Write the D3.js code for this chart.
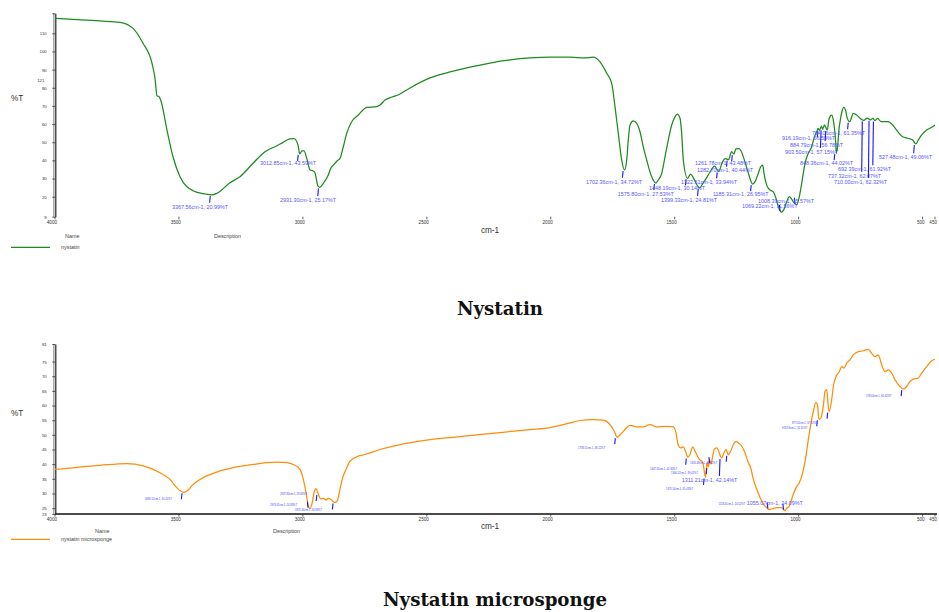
<!DOCTYPE html>
<html>
<head>
<meta charset="utf-8">
<script src="https://cdn.jsdelivr.net/npm/d3@7"></script>
<style>
  body { margin: 0; background: #fff; }
  svg { display: block; }
</style>
</head>
<body>
<svg id="chart" width="939" height="612"></svg>
<script>
// ---- data -------------------------------------------------------------
const wavenumberTicks = [4000, 3500, 3000, 2500, 2000, 1500, 1000, 500, 450];
const nystatinYTicks = [121, 110, 100, 90, 80, 70, 60, 50, 40, 30, 20, 9];
const microspongeYTicks = [81, 75, 70, 65, 60, 55, 50, 45, 40, 35, 30, 25, 23];

// [wavenumber cm-1, %T]
const nystatinSpectrum = [
  [4000,118.2],[3818.5,116.8],[3737.8,116.0],[3685.3,112.7],[3645.0,104.5],[3608.7,93.5],[3596.6,85.2],
  [3588.5,75.5],[3580.5,75.2],[3572.4,72.7],[3548.2,56.7],[3524.0,42.0],[3495.7,31.0],[3443.3,23.3],
  [3394.9,21.5],[3367.56,20.99],[3346.5,21.9],[3294.0,27.7],[3253.7,31.0],[3201.2,38.4],[3152.8,44.8],
  [3104.4,48.1],[3080.2,49.9],[3052.0,51.9],[3035.8,52.0],[3019.7,48.5],[3012.85,43.59],[3004.0,45.2],
  [2995.5,45.2],[2983.4,40.6],[2971.3,34.7],[2959.2,34.3],[2951.1,33.0],[2939.0,25.9],[2931.30,25.17],
  [2917.6,27.4],[2897.5,31.9],[2887.8,35.6],[2877.3,37.4],[2861.2,39.8],[2850.3,41.1],[2837.0,47.5],
  [2823.3,54.9],[2803.1,61.3],[2776.5,65.0],[2742.6,69.2],[2702.2,69.6],[2688.9,70.5],[2668.7,73.2],
  [2640.5,74.9],[2616.3,76.0],[2568.0,79.9],[2487.2,85.4],[2406.5,88.7],[2325.8,91.4],[2245.2,93.6],
  [2164.5,95.3],[2083.8,96.4],[2003.1,96.9],[1922.4,96.9],[1861.9,96.4],[1829.7,96.9],[1801.4,94.3],
  [1774.4,88.0],[1754.2,82.4],[1740.9,69.6],[1727.6,54.9],[1713.9,40.2],[1702.36,34.72],[1693.7,40.2],
  [1687.2,51.2],[1680.4,59.5],[1667.1,61.7],[1653.4,60.4],[1640.1,55.8],[1626.8,47.5],[1613.1,40.2],
  [1592.9,31.0],[1575.80,27.53],[1566.3,29.2],[1552.5,32.9],[1539.2,42.0],[1525.9,51.2],[1512.2,59.5],
  [1498.9,64.0],[1489.6,65.5],[1478.7,63.2],[1471.9,54.9],[1465.4,40.2],[1448.19,30.14],[1436.3,32.5],
  [1426.2,30.8],[1414.1,27.5],[1399.33,24.81],[1385.9,27.5],[1369.8,30.8],[1357.7,33.6],[1339.6,36.9],
  [1322.51,33.94],[1309.2,38.5],[1297.1,41.0],[1282.70,40.44],[1270.9,44.9],[1261.78,43.48],[1252.8,46.3],
  [1240.7,46.5],[1228.6,44.1],[1216.5,39.1],[1204.4,33.6],[1185.31,26.95],[1176.1,28.3],[1162.8,32.9],
  [1153.1,36.5],[1145.1,37.4],[1139.8,32.9],[1128.9,26.4],[1115.6,23.7],[1102.3,22.7],[1091.4,19.1],
  [1082.1,14.5],[1069.22,11.56],[1062.0,12.3],[1048.3,17.2],[1037.8,20.0],[1028.1,18.6],[1018.8,16.7],
  [1008.39,15.57],[997.4,20.0],[987.7,27.4],[974.4,38.4],[961.1,43.9],[947.4,47.5],[938.1,52.3],
  [926.0,56.2],[922.0,57.6],[916.19,56.59],[908.0,58.9],[903.50,57.15],[895.9,59.5],[884.79,56.78],
  [877.5,62.8],[866.6,65.0],[860.2,62.2],[850.5,49.4],[848.36,44.02],[841.7,49.4],[837.7,56.7],
  [832.0,62.2],[825.6,66.8],[818.7,69.2],[810.7,67.7],[805.4,64.0],[794.06,61.35],[779.6,65.9],
  [765.9,65.0],[752.6,63.2],[737.32,62.07],[724.0,63.3],[710.00,62.32],[701.0,63.2],[692.39,61.92],
  [681.1,63.2],[667.8,61.3],[640.8,61.3],[620.6,59.5],[600.4,55.8],[580.3,53.0],[560.1,52.2],
  [539.9,51.2],[527.48,49.06],[517.5,51.2],[503.7,54.0],[483.6,56.7],[463.4,58.2],[450,59.5]
];

const nystatinPeaks = [
  [3367.56,20.99],[3012.85,43.59],[2931.30,25.17],[1702.36,34.72],[1575.80,27.53],[1448.19,30.14],
  [1399.33,24.81],[1322.51,33.94],[1282.70,40.44],[1261.78,43.48],[1185.31,26.95],[1069.22,11.56],
  [1008.39,15.57],[916.19,56.59],[903.50,57.15],[884.79,56.78],[848.36,44.02],[794.06,61.35],
  [737.32,62.07],[710.00,62.32],[692.39,61.92],[527.48,49.06]
];

const microspongeSpectrum = [
  [4000,38.2],[3818.5,39.6],[3710.8,40.2],[3643.8,39.4],[3576.4,37.1],[3536.1,34.8],[3509.1,32.0],
  [3481.52,30.41],[3463.5,31.1],[3448.5,32.6],[3415.1,34.8],[3347.7,37.3],[3280.7,38.8],[3200.0,39.9],
  [3146.0,40.5],[3105.6,40.7],[3065.3,40.5],[3038.7,39.9],[3011.6,38.2],[2998.3,34.8],[2987.4,30.3],
  [2978.2,25.8],[2973.41,24.83],[2962.0,27.0],[2955.2,30.3],[2947.1,31.7],[2937.80,29.84],[2929.0,28.2],
  [2917.6,28.3],[2906.8,27.8],[2897.5,28.3],[2883.8,27.8],[2872.46,26.93],[2861.2,27.5],[2850.3,31.5],
  [2839.4,35.4],[2826.1,38.2],[2810.0,41.0],[2777.7,42.7],[2749.5,43.3],[2689.0,45.0],[2608.2,46.7],
  [2487.2,48.4],[2366.2,49.4],[2204.8,50.8],[2083.8,51.8],[2003.1,52.5],[1962.8,53.2],[1921.4,54.1],
  [1882.1,54.9],[1828.4,55.2],[1788.1,55.0],[1761.1,53.5],[1740.9,50.7],[1733.51,49.22],[1707.4,51.2],
  [1680.4,53.2],[1653.4,52.7],[1626.8,52.7],[1599.8,53.5],[1572.7,52.7],[1532.4,52.9],[1505.7,52.7],
  [1494.8,50.7],[1485.6,46.4],[1475.9,45.6],[1465.4,45.9],[1454.5,43.9],[1447.31,42.30],[1438.3,43.3],
  [1427.5,45.9],[1418.2,44.5],[1408.9,42.8],[1398.0,41.4],[1387.1,40.7],[1375.54,35.43],[1369.8,40.6],
  [1364.52,39.02],[1359.5,41.6],[1353.48,40.01],[1346.4,43.0],[1338.8,45.3],[1329.5,45.6],[1321.4,44.1],
  [1311.21,42.14],[1301.2,43.9],[1293.1,45.0],[1284.03,43.21],[1274.2,44.5],[1263.7,46.7],[1252.8,47.8],
  [1243.5,47.3],[1229.8,46.2],[1216.5,43.9],[1203.2,40.5],[1193.5,38.8],[1183.0,34.9],[1169.3,31.5],
  [1155.9,28.6],[1142.7,26.4],[1128.9,25.2],[1118.41,24.52],[1108.7,24.7],[1088.6,25.2],[1068.4,25.2],
  [1055.07,24.09],[1050.9,24.7],[1037.6,25.8],[1023.9,29.2],[1010.6,32.0],[997.4,33.7],[983.6,37.1],
  [970.4,42.8],[961.1,48.4],[951.4,53.5],[940.9,58.0],[930.0,61.1],[923.2,59.7],[918.53,55.31],
  [910.0,55.8],[905.9,57.2],[900.7,59.7],[893.8,64.8],[887.0,65.4],[880.5,59.7],[877.02,57.92],
  [866.7,62.0],[860.2,66.5],[849.3,69.9],[836.0,71.6],[826.4,73.3],[817.1,72.8],[806.2,74.5],
  [792.9,75.6],[779.6,77.3],[759.4,78.4],[739.2,78.7],[719.1,79.2],[705.4,77.8],[692.0,76.7],
  [678.8,77.3],[665.1,73.9],[651.8,71.6],[638.4,72.2],[624.7,71.1],[611.4,68.8],[591.3,66.5],
  [578.04,65.62],[564.2,66.5],[550.9,68.2],[537.6,69.0],[517.5,69.4],[503.7,71.1],[483.6,73.3],
  [463.4,75.3],[450,75.8]
];

const microspongePeaks = [
  [3481.52,30.41],[2973.41,24.83],[2937.80,29.84],[2872.46,26.93],[1733.51,49.22],[1447.31,42.30],
  [1375.54,35.43],[1364.52,39.02],[1353.48,40.01],[1311.21,42.14],[1284.03,43.21],[1118.41,24.52],
  [1055.07,24.09],[918.53,55.31],[877.02,57.92],[578.04,65.62]
];

// ---- peak label placement (left x, middle y in px; "big" = readable size) ----
const nystatinLabelSpots = [
  [172,206.7],[260,163.3],[280,200],[586,181.7],[617.7,194],[649,187.7],
  [661,200],[681,181.7],[697,170],[695,162.7],[713,194],[742,206.5],
  [758,201],[782,137.7],[785,151.7],[790,145],[800,163.3],[812,133.3],
  [828,175.7],[834,181.7],[838,169.3],[879,157.3]
];
const microspongeLabelSpots = [
  [145,499,"s"],[270,504.7,"s"],[280,494,"s"],[295,510,"s"],[578,447.7,"s"],[650,468.7,"s"],
  [666,489,"s"],[671,473.3,"s"],[690,462.7,"s"],[681.7,480,"big"],[727.3,null,"none"],[718.5,504,"s"],
  [746.7,502.7,"big"],[782,428.3,"s"],[792,422.7,"s"],[866,396,"s"]
];

// ---- drawing ----------------------------------------------------------
const svg = d3.select("#chart");
const x = d3.scaleLinear().domain([4000, 450]).range([55, 935]);
const FONT = "Liberation Sans, Arial, sans-serif";

function drawPanel(opt) {
  const y = d3.scaleLinear().domain(opt.yDomain).range(opt.yRange);
  const g = svg.append("g");
  const bottom = opt.yRange[0];

  // x axis
  if (opt.xBaseline) {
    g.append("line")
      .attr("x1", 55).attr("x2", 937).attr("y1", bottom).attr("y2", bottom)
      .attr("stroke", "#111").attr("stroke-width", 1.6);
  }
  const xTicks = g.append("g").selectAll("g").data(wavenumberTicks).join("g")
    .attr("transform", d => `translate(${x(d)},${bottom})`);
  xTicks.append("line").attr("y1", 0).attr("y2", 2.6).attr("stroke", "#333").attr("stroke-width", 0.8);
  xTicks.append("text")
    .attr("x", 2).attr("y", 7.3)
    .attr("text-anchor", "end")
    .attr("font-family", FONT).attr("font-size", 4.6).attr("fill", "#333")
    .text(d => d);

  // y axis
  const yAxis = d3.axisLeft(y).tickValues(opt.yTicks).tickSize(3).tickSizeOuter(0).tickPadding(5.5)
    .tickFormat(opt.yFormat || (d => d));
  g.append("line")
    .attr("x1", 53.8).attr("x2", 53.8).attr("y1", opt.yRange[1]).attr("y2", bottom)
    .attr("stroke", "#aaa").attr("stroke-width", 1.6);
  const ya = g.append("g").attr("transform", "translate(55.3,0)").call(yAxis);
  ya.select(".domain").attr("stroke", "#222").attr("stroke-width", 1.2);
  ya.selectAll(".tick line").attr("stroke", "#333").attr("stroke-width", 0.8);
  ya.selectAll(".tick text").attr("font-family", FONT).attr("font-size", 4.4).attr("fill", "#333");

  // spectrum
  const line = d3.line().x(d => x(d[0])).y(d => y(d[1])).curve(d3.curveMonotoneX);
  g.append("path").datum(opt.spectrum)
    .attr("d", line).attr("fill", "none")
    .attr("stroke", opt.color).attr("stroke-width", 1.25).attr("stroke-linejoin", "round");

  // peak markers and labels
  opt.peaks.forEach((p, i) => {
    const spot = opt.spots[i];
    const px = x(p[0]) - 1.5, py = y(p[1]);
    const ly = spot[1];
    let y1, y2;
    if (ly === null) { y1 = py + 1; y2 = py + 7; }
    else if (ly > py) { y1 = py + 1; y2 = Math.max(py + 7, ly - 4); }
    else { y1 = py - 1; y2 = Math.min(py - 7, ly + 4); }
    g.append("line")
      .attr("x1", px).attr("x2", px - 0.6).attr("y1", y1).attr("y2", y2)
      .attr("stroke", "#1515ff").attr("stroke-width", 1.1);
    if (ly === null) return;
    const size = spot[2] === "s" ? 2.6 : 5.4;
    g.append("text")
      .attr("x", spot[0]).attr("y", ly + size * 0.36)
      .attr("font-family", FONT).attr("font-size", size)
      .attr("fill", spot[2] === "s" ? "#3a3aff" : "#5555ff")
      .text(`${p[0].toFixed(2)}cm-1, ${p[1].toFixed(2)}%T`);
  });

  // axis titles
  g.append("text").attr("x", 490).attr("y", opt.cmY)
    .attr("text-anchor", "middle").attr("font-family", FONT).attr("font-size", 8.2).attr("fill", "#333")
    .text("cm-1");
  g.append("text").attr("x", 11).attr("y", opt.pctY)
    .attr("font-family", FONT).attr("font-size", 8.2).attr("fill", "#333")
    .text("%T");

  // legend block
  g.append("text").attr("x", opt.nameX).attr("y", opt.headY)
    .attr("font-family", FONT).attr("font-size", 5.4).attr("fill", "#444").text("Name");
  g.append("text").attr("x", opt.descX).attr("y", opt.headY)
    .attr("font-family", FONT).attr("font-size", 5.4).attr("fill", "#444").text("Description");
  g.append("line").attr("x1", 11).attr("x2", 50).attr("y1", opt.legendY).attr("y2", opt.legendY)
    .attr("stroke", opt.color).attr("stroke-width", 1.2);
  g.append("text").attr("x", 61).attr("y", opt.legendY + 1.8)
    .attr("font-family", FONT).attr("font-size", 5.4).attr("fill", "#444").text(opt.name);

  // title
  svg.append("text").attr("x", opt.titleX).attr("y", opt.titleY)
    .attr("text-anchor", "middle")
    .attr("font-family", "DejaVu Serif, serif").attr("font-weight", "bold").attr("font-size", 18.2)
    .attr("fill", "#111").text(opt.title);
  return g;
}

const nystatinPanel = drawPanel({
  yDomain: [9, 121], yRange: [216.7, 13.3], yTicks: nystatinYTicks,
  yFormat: d => (d === 121 ? "" : d),
  spectrum: nystatinSpectrum, peaks: nystatinPeaks, spots: nystatinLabelSpots,
  color: "#1f8a1f", xBaseline: false,
  cmY: 233, pctY: 101, nameX: 65, descX: 214, headY: 238, legendY: 247.3,
  name: "nystatin", title: "Nystatin", titleX: 500, titleY: 315
});
// extra maximum label printed beside the axis
nystatinPanel.append("text").attr("x", 44.5).attr("y", 81.5).attr("text-anchor", "end")
  .attr("font-family", FONT).attr("font-size", 4.4).attr("fill", "#333").text(nystatinYTicks[0]);

drawPanel({
  yDomain: [23, 81], yRange: [514, 344], yTicks: microspongeYTicks,
  spectrum: microspongeSpectrum, peaks: microspongePeaks, spots: microspongeLabelSpots,
  color: "#ff8c0a", xBaseline: true,
  cmY: 529, pctY: 416, nameX: 95, descX: 273, headY: 533, legendY: 539.3,
  name: "nystatin microsponge", title: "Nystatin microsponge", titleX: 495, titleY: 606
});
</script>
</body>
</html>
